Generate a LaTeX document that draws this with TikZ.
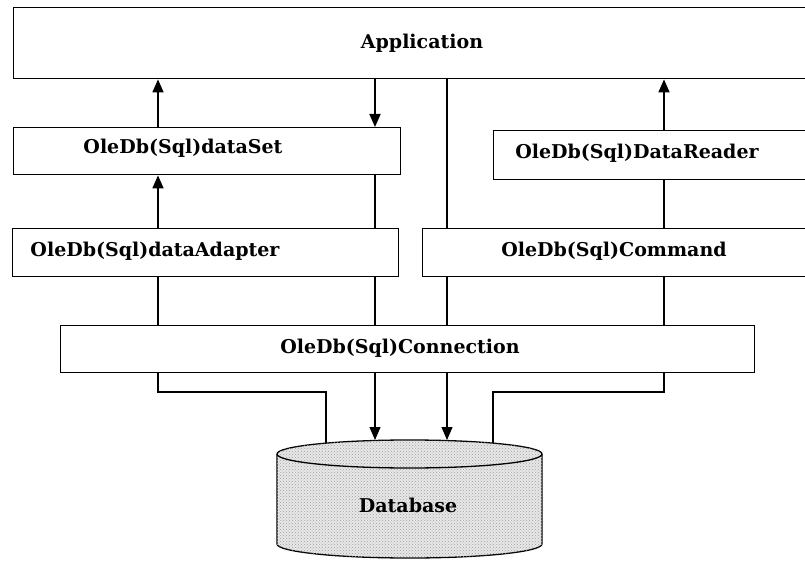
\documentclass[tikz,border=0pt]{standalone}
\usepackage{fontspec}
\setmainfont{DejaVu Serif}
\usetikzlibrary{arrows.meta,patterns}
\begin{document}
\begin{tikzpicture}[x=1pt,y=-1pt,
  box/.style={draw, line width=1.4pt, inner sep=0pt, anchor=north west, fill=white},
  lbl/.style={font=\fontsize{19}{19}\selectfont\bfseries, inner sep=0pt},
  wire/.style={line width=1.1pt},
  tip/.style={-{Triangle[width=11pt,length=13pt]}},
  arr/.style={line width=1.7pt, tip},
]
\useasboundingbox (0,0) rectangle (805,561);
% boxes
\node[box, minimum width=796pt, minimum height=71pt] (app) at (13,7) {};
\node[box, minimum width=387pt, minimum height=47pt] (ds) at (13,127) {};
\node[box, minimum width=386pt, minimum height=48pt] (ad) at (12,228) {};
\node[box, minimum width=320pt, minimum height=49pt] (dr) at (493,130) {};
\node[box, minimum width=390pt, minimum height=48pt] (cmd) at (422,228) {};
\node[box, minimum width=694pt, minimum height=47pt] (con) at (60,325) {};
% labels
\node[lbl] (tapp) at (422,43) {Application};
\node[lbl] (tds) at (183,148) {OleDb(Sql)dataSet};
\node[lbl] (tad) at (155,251) {OleDb(Sql)dataAdapter};
\node[lbl] (tdr) at (637,153) {OleDb(Sql)DataReader};
\node[lbl] (tcmd) at (614,251) {OleDb(Sql)Command};
\node[lbl] (tcon) at (400,348) {OleDb(Sql)Connection};
% x positions
\coordinate (xa) at (158,0);
\coordinate (xb) at (375,0);
\coordinate (xc) at (447,0);
\coordinate (xd) at (664,0);
\coordinate (xg) at (326,0);
\coordinate (xh) at (493,0);
\coordinate (yk) at (0,392);
% database cylinder
\filldraw[fill=gray!18, line width=1.3pt,
  postaction={pattern=crosshatch dots, pattern color=gray!75}]
  (277,454) -- (277,544) arc[start angle=180, end angle=360, x radius=132.5pt, y radius=14pt]
  -- (542,454) arc[start angle=0, end angle=180, x radius=132.5pt, y radius=14pt] -- cycle;
\draw[line width=1.3pt] (277,454) arc[start angle=180, end angle=360, x radius=132.5pt, y radius=14pt];
\node[lbl] (db) at (408,505) {Database};
\coordinate (dbl) at (326,443);
\coordinate (dbr) at (493,443);
\coordinate (dbb) at (375,440);
\coordinate (dbc) at (447,440);
% connectors top
\draw[arr] (ds.north -| xa) -- (app.south -| xa);
\draw[arr] (app.south -| xb) -- (ds.north -| xb);
\draw[arr] (ad.north -| xa) -- (ds.south -| xa);
\draw[wire] (ds.south -| xb) -- (ad.north -| xb);
\draw[wire] (ad.south -| xa) -- (con.north -| xa);
\draw[wire] (ad.south -| xb) -- (con.north -| xb);
\draw[wire] (app.south -| xc) -- (cmd.north -| xc);
\draw[wire] (cmd.south -| xc) -- (con.north -| xc);
\draw[arr] (dr.north -| xd) -- (app.south -| xd);
\draw[wire] (cmd.north -| xd) -- (dr.south -| xd);
\draw[wire] (cmd.south -| xd) -- (con.north -| xd);
% connectors to database
\draw[wire] (con.south -| xa) -- (xa |- yk) -- (xg |- yk) -- (dbl);
\draw[wire] (con.south -| xd) -- (xd |- yk) -- (xh |- yk) -- (dbr);
\draw[wire, tip] (con.south -| xb) -- (dbb);
\draw[wire, tip] (con.south -| xc) -- (dbc);
\end{tikzpicture}
\end{document}
